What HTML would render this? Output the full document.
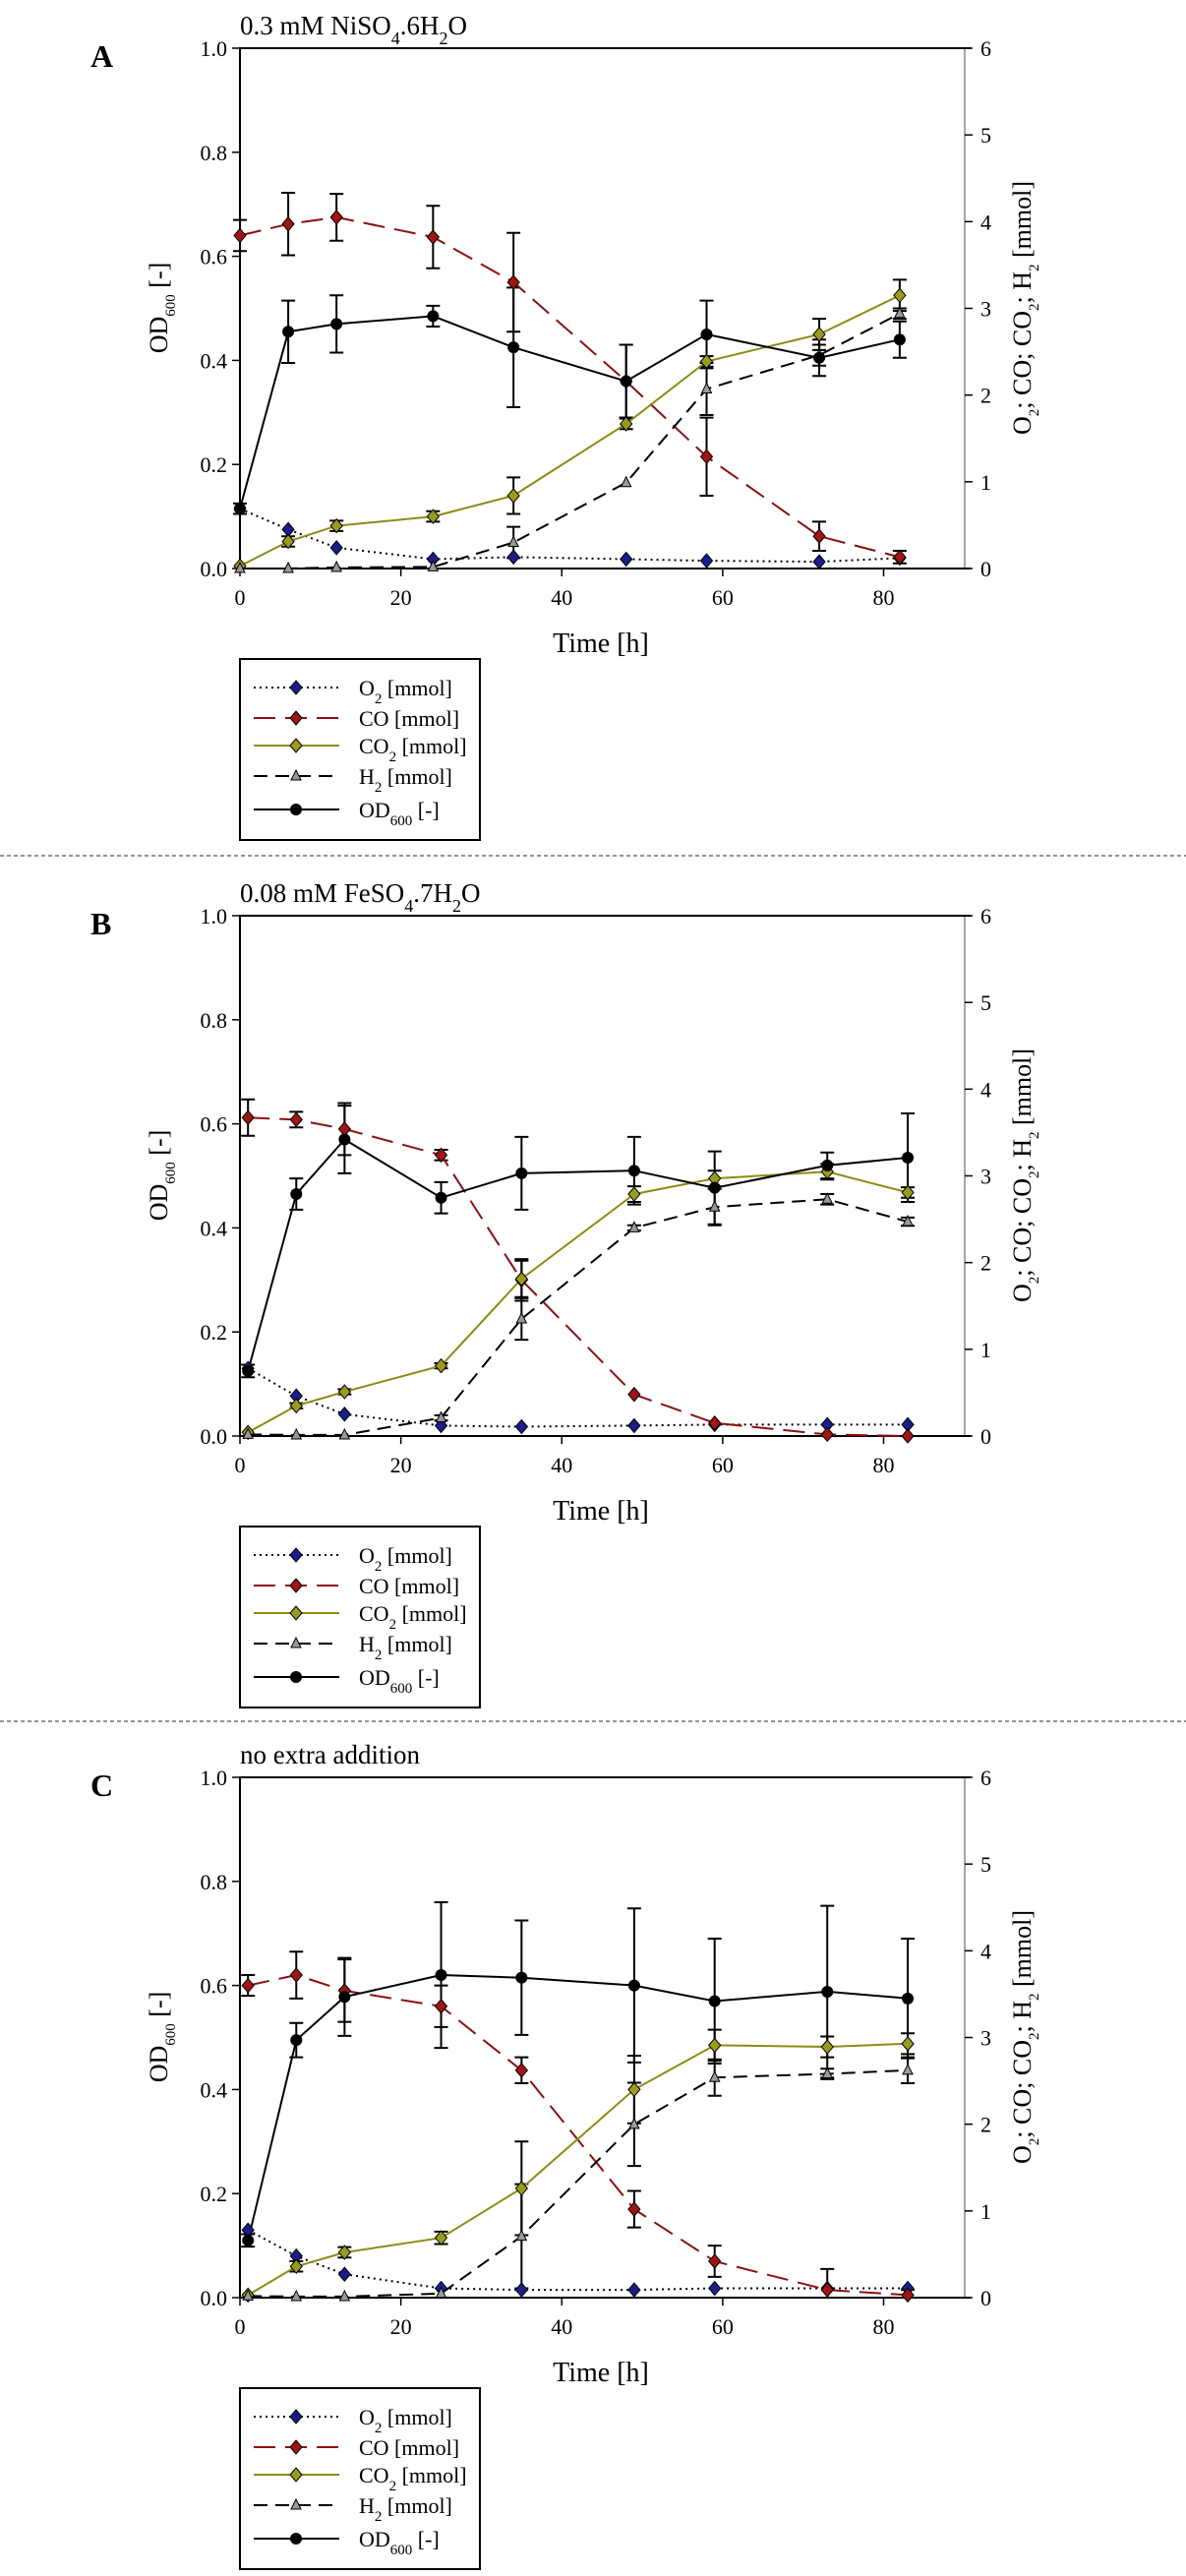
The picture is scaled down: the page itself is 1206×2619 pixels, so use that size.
<!DOCTYPE html>
<html><head><meta charset="utf-8"><style>
html,body{margin:0;padding:0;background:#fff;}
svg{display:block;font-family:"Liberation Serif",serif;}
</style></head><body>
<svg id="s" width="1206" height="2619" xmlns="http://www.w3.org/2000/svg"></svg>
<script>
const S=document.getElementById('s');let h='';
const X0=244,XR=981,XS=(898.5-244)/80,H=529;
function px(t){return X0+t*XS;}
const panels=[
{top:49,lab:'A',title:'0.3 mM NiSO<tspan baseline-shift="sub" font-size="18">4</tspan>.6H<tspan baseline-shift="sub" font-size="18">2</tspan>O',
t:[0,6,12,24,34,48,58,72,82],
od:[.115,.455,.47,.485,.425,.36,.45,.405,.44],ode:[.01,.06,.055,.02,.115,.07,.065,.035,.035],
o2:[.115,.075,.04,.018,.022,.018,.015,.013,.02],
co:[.64,.662,.675,.637,.55,.36,.215,.062,.022],coe:[.03,.06,.045,.06,.095,.07,.075,.028,.012],
co2:[.005,.052,.082,.1,.14,.278,.398,.45,.525],co2e:[0,.01,.01,.01,.035,.01,.01,.03,.03],
h2:[0,0,.002,.003,.05,.165,.345,.41,.49],h2e:[0,0,0,0,.03,0,.05,.02,.01]},
{top:931,lab:'B',title:'0.08 mM FeSO<tspan baseline-shift="sub" font-size="18">4</tspan>.7H<tspan baseline-shift="sub" font-size="18">2</tspan>O',
t:[1,7,13,25,35,49,59,73,83],
od:[.125,.465,.57,.458,.505,.51,.477,.52,.535],ode:[.012,.03,.065,.03,.07,.065,.07,.025,.085],
o2:[.13,.077,.042,.02,.018,.02,.022,.022,.022],
co:[.612,.608,.59,.54,.3,.08,.025,.003,0],coe:[.035,.015,.05,.01,.04,0,0,0,0],
co2:[.007,.058,.085,.135,.302,.465,.495,.508,.468],co2e:[0,.005,.005,.005,.035,.015,.015,.015,.01],
h2:[.003,.002,.002,.035,.225,.4,.44,.455,.412],h2e:[0,0,0,.005,.04,.005,.035,.01,.008]},
{top:1807,lab:'C',title:'no extra addition',
t:[1,7,13,25,35,49,59,73,83],
od:[.11,.495,.578,.62,.615,.6,.57,.588,.575],ode:[.012,.033,.075,.14,.11,.148,.12,.165,.115],
o2:[.13,.08,.045,.018,.015,.015,.018,.018,.018],
co:[.6,.62,.59,.56,.437,.17,.07,.015,.005],coe:[.02,.045,.06,.04,.025,.035,.03,.04,.01],
co2:[.005,.06,.087,.115,.21,.4,.485,.482,.488],co2e:[0,.01,.01,.012,.09,.065,.03,.02,.02],
h2:[.003,.002,.002,.008,.118,.333,.423,.43,.437],h2e:[0,0,0,0,.1,.08,.035,.01,.025]}
];
function dia(x,y,f){return `<path d="M${x} ${y-7}L${x+6} ${y}L${x} ${y+7}L${x-6} ${y}Z" fill="${f}" stroke="#000" stroke-width="1"/>`;}
function tri(x,y){return `<path d="M${x} ${y-6}L${x+5} ${y+4}L${x-5} ${y+4}Z" fill="#999" stroke="#000" stroke-width="1"/>`;}
function circ(x,y){return `<circle cx="${x}" cy="${y}" r="6" fill="#000"/>`;}
const SUB='<tspan baseline-shift="sub" font-size="15">';
panels.forEach((p,pi)=>{
 const T=p.top,B=T+H,py=v=>B-v*H;
 h+=`<text x="92" y="${T+19}" font-size="32" font-weight="bold">${p.lab}</text>`;
 h+=`<text x="244" y="${T-14}" font-size="27">${p.title}</text>`;
 h+=`<line x1="${XR}" y1="${T}" x2="${XR}" y2="${B}" stroke="#888" stroke-width="1.5"/>`;
 h+=`<path d="M${X0} ${B}V${T}H${XR+6}" fill="none" stroke="#000" stroke-width="2"/>`;
 h+=`<line x1="${X0}" y1="${B}" x2="${XR+6}" y2="${B}" stroke="#000" stroke-width="2"/>`;
 for(let i=0;i<=5;i++){const y=py(i*.2);h+=`<line x1="${X0-8}" y1="${y}" x2="${X0}" y2="${y}" stroke="#000" stroke-width="1.5"/><text x="${X0-13}" y="${y+8}" font-size="22" text-anchor="end">${(i*.2).toFixed(1)}</text>`;}
 for(let i=0;i<=6;i++){const y=B-i*H/6;h+=`<line x1="${XR}" y1="${y}" x2="${XR+8}" y2="${y}" stroke="#000" stroke-width="1.5"/><text x="${XR+16}" y="${y+8}" font-size="22">${i}</text>`;}
 for(let i=0;i<=4;i++){const x=px(i*20);h+=`<line x1="${x}" y1="${B}" x2="${x}" y2="${B+8}" stroke="#000" stroke-width="1.5"/><text x="${x}" y="${B+37}" font-size="22" text-anchor="middle">${i*20}</text>`;}
 h+=`<text x="611" y="${B+85}" font-size="28" text-anchor="middle">Time [h]</text>`;
 h+=`<text transform="translate(170 ${T+264}) rotate(-90)" font-size="26" text-anchor="middle">OD${SUB}600</tspan> [-]</text>`;
 h+=`<text transform="translate(1048 ${T+264}) rotate(-90)" font-size="26" text-anchor="middle">O${SUB}2</tspan>; CO; CO${SUB}2</tspan>; H${SUB}2</tspan> [mmol]</text>`;
 const pts=a=>a.map((v,i)=>px(p.t[i]).toFixed(1)+','+py(v).toFixed(1)).join(' ');
 function err(a,e){let s='';a.forEach((v,i)=>{if(e[i]>0.004){const x=px(p.t[i]),y1=py(v+e[i]),y2=py(Math.max(0,v-e[i]));s+=`<path d="M${x} ${y1}V${y2}M${x-7} ${y1}H${x+7}M${x-7} ${y2}H${x+7}" stroke="#000" stroke-width="2" fill="none"/>`;}});return s;}
 h+=err(p.co,p.coe)+err(p.co2,p.co2e)+err(p.h2,p.h2e)+err(p.od,p.ode);
 h+=`<polyline points="${pts(p.o2)}" fill="none" stroke="#000" stroke-width="2" stroke-dasharray="2 4"/>`;
 h+=`<polyline points="${pts(p.co)}" fill="none" stroke="#8b1010" stroke-width="2" stroke-dasharray="22 10"/>`;
 h+=`<polyline points="${pts(p.co2)}" fill="none" stroke="#8c8c14" stroke-width="2"/>`;
 h+=`<polyline points="${pts(p.h2)}" fill="none" stroke="#000" stroke-width="2" stroke-dasharray="14 8"/>`;
 h+=`<polyline points="${pts(p.od)}" fill="none" stroke="#000" stroke-width="2"/>`;
 p.t.forEach((t,i)=>{const x=px(t);
  h+=dia(x,py(p.o2[i]),'#1c1c8c')+dia(x,py(p.co[i]),'#a01414')+dia(x,py(p.co2[i]),'#9a9a1e')+tri(x,py(p.h2[i]))+circ(x,py(p.od[i]));});
 const L=T+621;
 h+=`<rect x="244" y="${L}" width="244" height="184" fill="none" stroke="#000" stroke-width="2"/>`;
 const ys=[29,60,88,119,153];
 const lab=[`O${SUB}2</tspan>  [mmol]`,'CO [mmol]',`CO${SUB}2</tspan> [mmol]`,`H${SUB}2</tspan> [mmol]`,`OD${SUB}600</tspan> [-]`];
 const st=['stroke="#000" stroke-dasharray="2 4"','stroke="#8b1010" stroke-dasharray="22 10"','stroke="#8c8c14"','stroke="#000" stroke-dasharray="14 8"','stroke="#000"'];
 ys.forEach((dy,k)=>{const y=L+dy;
  h+=`<line x1="258" y1="${y}" x2="345" y2="${y}" ${st[k]} stroke-width="2"/>`;
  h+=[dia(301,y,'#1c1c8c'),dia(301,y,'#a01414'),dia(301,y,'#9a9a1e'),tri(301,y),circ(301,y)][k];
  h+=`<text x="365" y="${y+8}" font-size="22">${lab[k]}</text>`;});
});
h+=`<line x1="0" y1="870" x2="1206" y2="870" stroke="#555" stroke-width="1.2" stroke-dasharray="4 3"/>`;
h+=`<line x1="0" y1="1750" x2="1206" y2="1750" stroke="#555" stroke-width="1.2" stroke-dasharray="4 3"/>`;
S.innerHTML=h;
</script>
</body></html>
